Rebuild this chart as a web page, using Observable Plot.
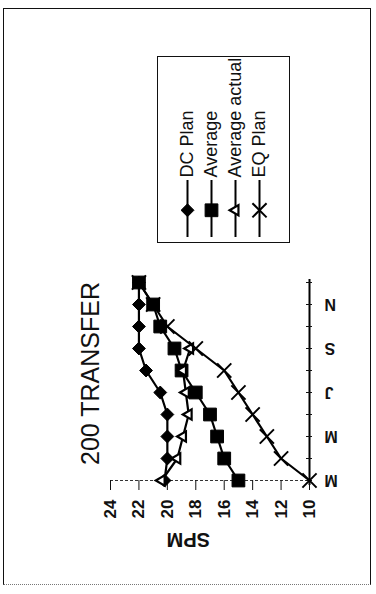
<!DOCTYPE html>
<html><head><meta charset="utf-8">
<script src="https://cdn.jsdelivr.net/npm/d3@7"></script>
<script src="https://cdn.jsdelivr.net/npm/@observablehq/plot@0.6"></script>
<style>
html,body{margin:0;padding:0;background:#fff;}
body{width:376px;height:594px;overflow:hidden;position:relative;font-family:"Liberation Sans",Arial,sans-serif;}
#page{position:absolute;left:0;top:594px;width:594px;height:376px;transform-origin:0 0;transform:rotate(-90deg);}
#frame{position:absolute;left:9px;top:3px;width:575px;height:366px;border:1.5px solid #111;border-left:1.5px dotted #777;}
#title{position:absolute;left:129px;top:78px;font-size:25px;line-height:25px;white-space:nowrap;color:#111;}
#chart{position:absolute;left:0;top:0;}
#legend{position:absolute;left:351px;top:157px;width:185px;height:131px;border:1.5px solid #111;}
svg{overflow:visible;}
</style></head><body>
<div id="page">
 <div id="frame"></div>
 <div id="title">200 TRANSFER</div>
 <div id="chart"></div>
 <div id="legend"></div>
</div>
<script>
const months = ["Mar","Apr","May","Jun","Jul","Aug","Sep","Oct","Nov","Dec"];
const xTickLabels = ["M","","M","","J","","S","","N",""];
const yTicks = [10,12,14,16,18,20,22,24];
const seriesNames = ["DC Plan","Average","Average actual","EQ Plan"];
const dcPlan = [20.2,20,20,20,20.5,21.5,22,22,22,22];
const average = [15,16,16.5,17,18,19,19.5,20.5,21,22];
const averageActual = [20.4,19.3,18.9,18.5,18.7,18.9,18.4];
const eqPlan = [10,12,13,14,15,16,18,20,21,22];

const rows = vals => vals.map((v,i)=>({month: months[i], value: v}));
const styles = [
  {symbol:"diamond2", fill:"#000", stroke:"#000", r:5.8, sw:1},
  {symbol:"square", fill:"#000", stroke:"#000", r:7.2, sw:1},
  {symbol:"triangle", fill:"#fff", stroke:"#000", r:3.8, sw:2.2},
  {symbol:"times", fill:"none", stroke:"#000", r:6.5, sw:2}
];
const allData = [dcPlan, average, averageActual, eqPlan];
const font = "'Liberation Sans', Arial, sans-serif";

const seriesMarks = [];
allData.forEach((vals, k) => {
  const s = styles[k];
  seriesMarks.push(Plot.line(rows(vals), {x:"month", y:"value", stroke:"#000", strokeWidth:2.2}));
  seriesMarks.push(Plot.dot(rows(vals), {x:"month", y:"value", symbol: s.symbol, r: s.r, fill: s.fill, stroke: s.stroke, strokeWidth: s.sw}));
});

const chart = Plot.plot({
  width: 594, height: 376,
  marginLeft: 109, marginRight: 279, marginTop: 110, marginBottom: 67,
  style: {fontFamily: font, fontSize: "16px", background: "transparent", color: "#111"},
  x: {type: "point", domain: months, padding: 0},
  y: {domain: [10, 24]},
  marks: [
    Plot.ruleX([months[0]], {stroke: "#333", strokeWidth: 1, strokeDasharray: "3,2"}),
    Plot.ruleY([10], {stroke: "#000", strokeWidth: 2}),
    Plot.axisY({ticks: yTicks, tickSize: 10, dx: 5, tickPadding: 10, fontSize: 17, fontWeight: "bold", label: null, anchor: "left"}),
    Plot.axisX({tickSize: 6, dy: -3, tickPadding: 12, tickRotate: -90, tickFormat: d => xTickLabels[months.indexOf(d)], fontSize: 16, fontWeight: "bold", label: null, anchor: "bottom"}),
    Plot.text(["SPM"], {frameAnchor: "left", dx: -55, rotate: -90, fontSize: 20, fontWeight: "bold"}),
    ...seriesMarks
  ]
});
document.getElementById("chart").appendChild(chart);

const legendMarks = [];
seriesNames.forEach((name, k) => {
  const s = styles[k];
  legendMarks.push(Plot.ruleY([name], {y: d => d, x1: 0, x2: 1, stroke: "#000", strokeWidth: 2}));
  legendMarks.push(Plot.dot([name], {x: 0.46, y: d => d, symbol: s.symbol, r: s.r, fill: s.fill, stroke: s.stroke, strokeWidth: s.sw}));
  legendMarks.push(Plot.text([name], {x: 1, y: d => d, text: d => d, textAnchor: "start", dx: 2, fontSize: 18, fill: "#111"}));
});
const legend = Plot.plot({
  width: 185, height: 131, margin: 0,
  style: {fontFamily: font, background: "transparent"},
  x: {domain: [0, 1], range: [5, 62], axis: null},
  y: {type: "point", domain: seriesNames, range: [15, 114], axis: null},
  marks: legendMarks
});
document.getElementById("legend").appendChild(legend);
</script>
</body></html>
